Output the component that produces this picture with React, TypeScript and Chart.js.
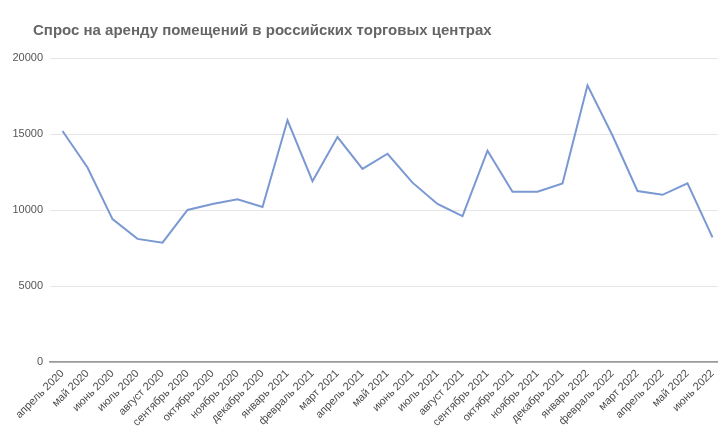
import { useEffect, useRef } from "react";
import { Chart, registerables } from "chart.js";

Chart.register(...registerables);

const TITLE = "Спрос на аренду помещений в российских торговых центрах";

const MONTHS = [
  "апрель 2020", "май 2020", "июнь 2020", "июль 2020", "август 2020",
  "сентябрь 2020", "октябрь 2020", "ноябрь 2020", "декабрь 2020",
  "январь 2021", "февраль 2021", "март 2021", "апрель 2021", "май 2021",
  "июнь 2021", "июль 2021", "август 2021", "сентябрь 2021", "октябрь 2021",
  "ноябрь 2021", "декабрь 2021", "январь 2022", "февраль 2022", "март 2022",
  "апрель 2022", "май 2022", "июнь 2022",
];

const DEMAND = [
  15200, 12800, 9400, 8100, 7850, 10000, 10400, 10700, 10200,
  15900, 11900, 14800, 12700, 13700, 11800, 10400, 9600, 13900, 11200,
  11200, 11750, 18200, 14900, 11250, 11000, 11750, 8200,
];

const Y_MIN = 0;
const Y_MAX = 20000;
const Y_STEP = 5000;

export default function App() {
  const ref = useRef<HTMLCanvasElement | null>(null);

  useEffect(() => {
    if (!ref.current) return;
    const chart = new Chart(ref.current, {
      type: "line",
      data: {
        labels: MONTHS,
        datasets: [
          {
            data: DEMAND,
            borderColor: "rgb(122,152,210)",
            borderWidth: 2,
            pointRadius: 0,
            tension: 0,
            fill: false,
          },
        ],
      },
      options: {
        responsive: false,
        animation: false,
        layout: { padding: { left: 6, right: 35, top: 58, bottom: 0 } },
        plugins: {
          legend: { display: false },
          tooltip: { enabled: false },
          title: { display: false },
        },
        scales: {
          x: {
            offset: true,
            grid: { display: false, drawTicks: false },
            border: { display: true, color: "#9a9a9a", width: 1.5 },
            ticks: {
              autoSkip: false,
              maxRotation: 45,
              minRotation: 45,
              padding: 5,
              color: "#4a4a4a",
              font: { family: "Liberation Sans", size: 11 },
            },
            afterFit: (s: any) => {
              s.height = 68;
              s.paddingLeft = 0;
              s.paddingRight = 0;
            },
          },
          y: {
            min: Y_MIN,
            max: Y_MAX,
            grid: {
              drawTicks: false,
              color: (c: any) => (c.tick && c.tick.value === 0 ? "#9a9a9a" : "#e6e6e6"),
              lineWidth: (c: any) => (c.tick && c.tick.value === 0 ? 1.5 : 1),
            },
            border: { display: false },
            ticks: {
              stepSize: Y_STEP,
              padding: 7,
              color: "#555",
              font: { family: "Liberation Sans", size: 11 },
              callback: (v: any) => String(v),
            },
            afterFit: (s: any) => {
              s.width = 44;
              s.paddingTop = 0;
              s.paddingBottom = 0;
            },
          },
        },
      },
    });
    return () => chart.destroy();
  }, []);

  return (
    <div
      style={{
        position: "fixed",
        left: 0,
        top: 0,
        width: 718,
        height: 430,
        overflow: "hidden",
        background: "#fff",
      }}
    >
      <div
        style={{
          position: "absolute",
          left: 33,
          top: 21,
          fontFamily: "Liberation Sans, Arial, sans-serif",
          fontSize: 15,
          fontWeight: "bold",
          color: "#666",
          lineHeight: "18px",
          whiteSpace: "nowrap",
        }}
      >
        {TITLE}
      </div>
      <canvas ref={ref} width={760} height={430} style={{ display: "block" }} />
    </div>
  );
}
